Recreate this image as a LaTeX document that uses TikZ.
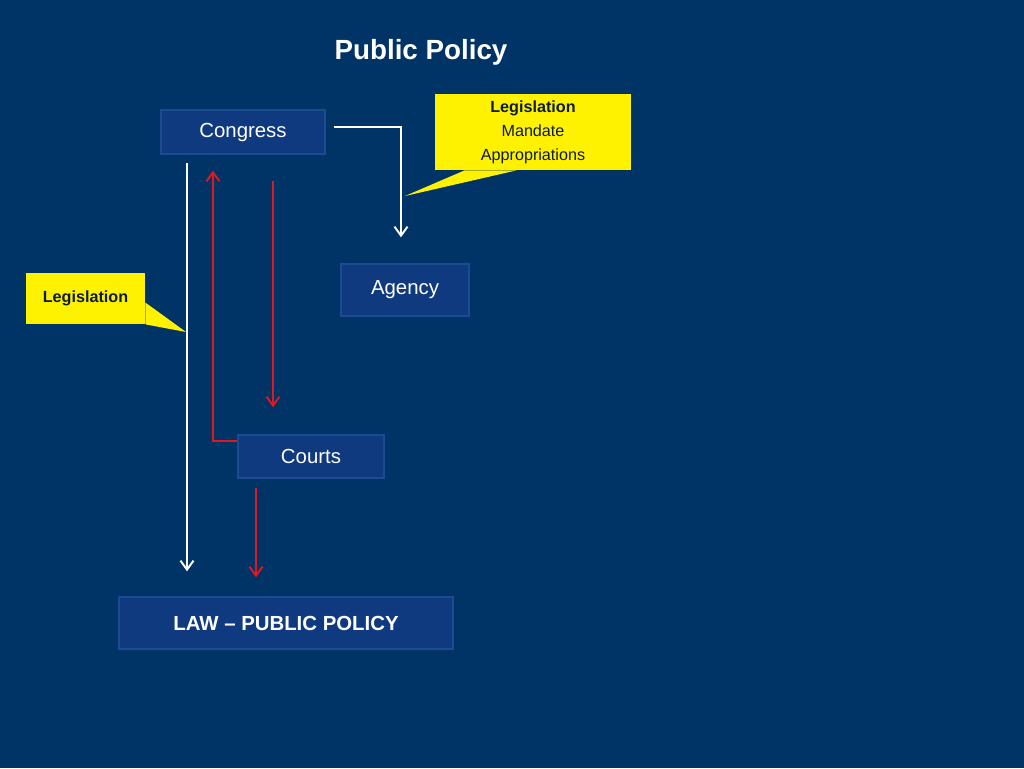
\documentclass[tikz,border=0pt]{standalone}
\usepackage{fontspec}
\setmainfont{Liberation Sans}
\usetikzlibrary{arrows.meta}

\definecolor{bg}{RGB}{0,51,102}
\definecolor{boxfill}{RGB}{16,58,128}
\definecolor{boxline}{RGB}{30,74,144}
\definecolor{redline}{RGB}{224,24,32}
\definecolor{notetext}{RGB}{12,28,56}

\tikzstyle{box} = [draw=boxline,line width=0.8pt,fill=boxfill,text=white,font=\fontsize{11.6}{14}\selectfont]
\tikzstyle{note} = [fill=yellow,text=notetext,align=center,font=\fontsize{9.2}{13.6}\selectfont]
\tikzstyle{wline} = [white,line width=1.1pt,-{Straight Barb[length=1.8mm,width=2.6mm]}]
\tikzstyle{rline} = [redline,line width=1.1pt,-{Straight Barb[length=1.8mm,width=2.6mm]}]

\begin{document}
\begin{tikzpicture}[x=0.02cm,y=-0.02cm]
	\fill[bg] (0,0) rectangle (1024,768);
	\useasboundingbox (0,0) rectangle (1024,768);

	\node[text=white,font=\fontsize{15.8}{18}\selectfont\bfseries] (title) at (421,52) {Public Policy};

	\node[box,minimum width=3.28cm,minimum height=0.88cm] (congress) at (243,132) {Congress};
	\node[box,minimum width=2.56cm,minimum height=1.04cm] (agency) at (405,290) {Agency};
	\node[box,minimum width=2.92cm,minimum height=0.86cm] (courts) at (311,456.5) {Courts};
	\node[box,minimum width=6.68cm,minimum height=1.04cm,font=\fontsize{11.6}{14}\selectfont\bfseries] (law) at (286,623) {LAW -- PUBLIC POLICY};

	\node[note,minimum width=3.92cm,minimum height=1.52cm] (leg1) at (533,132) {\textbf{Legislation}\\Mandate\\Appropriations};
	\node[note,minimum width=2.38cm,minimum height=1.02cm] (leg2) at (85.5,298.5) {\textbf{Legislation}};

	\coordinate (tip1) at (405,196);
	\coordinate (tip2) at (186,332);
	\fill[yellow] ([shift={(30,0)}]leg1.south west) -- (tip1) -- ([shift={(82,0)}]leg1.south west) -- cycle;
	\fill[yellow] ([shift={(0,4)}]leg2.east) -- (tip2) -- (leg2.south east) -- cycle;

	\draw[wline] ([shift={(8,-5)}]congress.east) -| ([shift={(-4,-26)}]agency.north);
	\draw[wline] ([shift={(-56,8)}]congress.south) -- ([shift={(-99,-25)}]law.north);
	\draw[rline] ([shift={(0,-15.5)}]courts.west) -| ([shift={(-30,16)}]congress.south);
	\draw[rline] ([shift={(30,26)}]congress.south) -- ([shift={(-38,-27)}]courts.north);
	\draw[rline] ([shift={(-55,9)}]courts.south) -- ([shift={(-30,-19)}]law.north);
\end{tikzpicture}
\end{document}
